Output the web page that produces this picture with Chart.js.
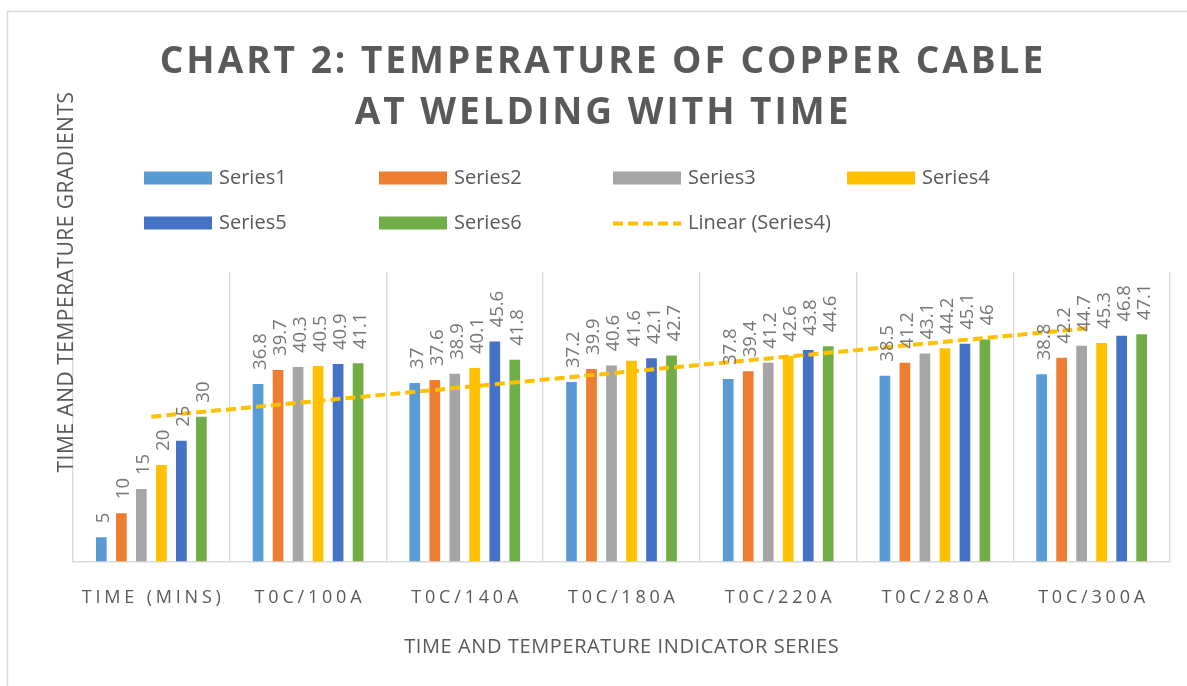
<!DOCTYPE html>
<html>
<head>
<meta charset="utf-8">
<script src="https://cdn.jsdelivr.net/npm/chart.js@4.4.1/dist/chart.umd.min.js"></script>
<style>
html,body{margin:0;padding:0;background:#ffffff;}
#wrap{width:1187px;height:686px;position:relative;}
</style>
</head>
<body>
<div id="wrap"><canvas id="c"></canvas></div>
<script>
const categories = ['TIME (MINS)', 'T0C/100A', 'T0C/140A', 'T0C/180A', 'T0C/220A', 'T0C/280A', 'T0C/300A'];
const series1 = [5, 36.8, 37, 37.2, 37.8, 38.5, 38.8];
const series2 = [10, 39.7, 37.6, 39.9, 39.4, 41.2, 42.2];
const series3 = [15, 40.3, 38.9, 40.6, 41.2, 43.1, 44.7];
const series4 = [20, 40.5, 40.1, 41.6, 42.6, 44.2, 45.3];
const series5 = [25, 40.9, 45.6, 42.1, 43.8, 45.1, 46.8];
const series6 = [30, 41.1, 41.8, 42.7, 44.6, 46, 47.1];
const trendSeries4 = [30.0, null, null, null, null, null, 48.4];
const seriesNames = ['Series1', 'Series2', 'Series3', 'Series4', 'Series5', 'Series6'];
const trendName = 'Linear (Series4)';
const titleLines = ['CHART 2: TEMPERATURE OF COPPER CABLE', 'AT WELDING WITH TIME'];
const yTitle = 'TIME AND TEMPERATURE GRADIENTS';
const xTitle = 'TIME AND TEMPERATURE INDICATOR SERIES';
const colors = ['#5B9BD5', '#ED7D31', '#A5A5A5', '#FFC000', '#4472C4', '#70AD47'];
const trendColor = '#FFC000';
const FONT = '"Open Sans", "DejaVu Sans", sans-serif';
const TEXT = '#595959';

const allSeries = [series1, series2, series3, series4, series5, series6];

const barDatasets = allSeries.map((d, i) => ({
  type: 'bar',
  label: seriesNames[i],
  data: d,
  backgroundColor: colors[i],
  borderWidth: 0,
  categoryPercentage: 0.766,
  barPercentage: 0.535,
  order: 1
}));

const trendDataset = {
  type: 'line',
  label: trendName,
  data: trendSeries4,
  borderColor: trendColor,
  borderWidth: 4,
  borderDash: [10, 5],
  pointRadius: 0,
  spanGaps: true,
  fill: false,
  order: 0
};

function wrapSpacing(obj, method, spacing) {
  const key = '_ls_' + method;
  if (!obj || obj[key]) return;
  const orig = obj[method];
  obj[method] = function () {
    const c = this.ctx; c.save(); c.letterSpacing = spacing + 'px'; c.translate(spacing / 2, 0);
    orig.apply(this, arguments); c.restore();
  };
  obj[key] = true;
}

const spacingPlugin = {
  id: 'spacing',
  beforeDraw(chart) {
    wrapSpacing(chart.scales.x, 'drawLabels', 3.8);
    wrapSpacing(chart.scales.x, 'drawTitle', 0.6);
    wrapSpacing(chart.titleBlock, 'draw', 3);
    const ctx = chart.ctx;
    ctx.save();
    ctx.strokeStyle = '#d9d9d9';
    ctx.lineWidth = 1.5;
    ctx.strokeRect(7.5, 11.5, 1400, 900);
    ctx.restore();
  }
};

const labelPlugin = {
  id: 'barLabels',
  afterDatasetsDraw(chart) {
    const ctx = chart.ctx;
    ctx.save();
    ctx.font = '18.5px ' + FONT;
    ctx.fillStyle = '#767676';
    ctx.textAlign = 'left';
    ctx.textBaseline = 'alphabetic';
    chart.data.datasets.forEach((ds, i) => {
      if (ds.type !== 'bar') return;
      const meta = chart.getDatasetMeta(i);
      meta.data.forEach((el, j) => {
        ctx.save();
        ctx.translate(el.x + 8, el.y - 14);
        ctx.rotate(-Math.PI / 2);
        ctx.fillText(String(ds.data[j]), 0, 0);
        ctx.restore();
      });
    });
    ctx.restore();
  }
};

const legendPlugin = {
  id: 'customLegend',
  afterDraw(chart) {
    const ctx = chart.ctx;
    const cols = [144, 379, 613, 847];
    const rows = [178, 223];
    const items = seriesNames.map((n, i) => ({ text: n, color: colors[i], line: false }));
    items.push({ text: trendName, color: trendColor, line: true });
    ctx.save();
    ctx.font = '20px ' + FONT;
    ctx.textBaseline = 'middle';
    ctx.textAlign = 'left';
    items.forEach((it, k) => {
      const x = cols[k % 4];
      const y = rows[Math.floor(k / 4)];
      if (it.line) {
        ctx.save();
        ctx.strokeStyle = it.color;
        ctx.lineWidth = 4;
        ctx.setLineDash([10, 5]);
        ctx.beginPath();
        ctx.moveTo(x, y + 0.5);
        ctx.lineTo(x + 68, y + 0.5);
        ctx.stroke();
        ctx.restore();
      } else {
        ctx.fillStyle = it.color;
        ctx.fillRect(x, y - 6.5, 68, 13);
      }
      ctx.fillStyle = TEXT;
      ctx.fillText(it.text, x + 75, y);
    });
    ctx.restore();
  }
};

const yTitlePlugin = {
  id: 'yTitle',
  afterDraw(chart) {
    const ctx = chart.ctx;
    ctx.save();
    ctx.font = '21px ' + FONT;
    ctx.letterSpacing = '0.5px';
    ctx.fillStyle = TEXT;
    ctx.textAlign = 'center';
    ctx.textBaseline = 'alphabetic';
    ctx.translate(72.5, 282);
    ctx.rotate(-Math.PI / 2);
    ctx.fillText(yTitle, 0, 0);
    ctx.restore();
  }
};

new Chart(document.getElementById('c'), {
  data: {
    labels: categories,
    datasets: [trendDataset].concat(barDatasets)
  },
  options: {
    responsive: true,
    maintainAspectRatio: false,
    animation: false,
    layout: { padding: { left: 33, right: 17, top: 12, bottom: 8 } },
    plugins: {
      legend: { display: false },
      tooltip: { enabled: false },
      title: {
        display: true,
        text: titleLines,
        color: TEXT,
        font: { family: FONT, size: 37, weight: 'bold', lineHeight: 1.378 },
        padding: { top: 25, bottom: 133 }
      }
    },
    scales: {
      x: {
        type: 'category',
        offset: true,
        grid: { display: true, offset: true, color: '#d9d9d9', lineWidth: 1.3, drawTicks: false },
        border: { display: true, color: '#d9d9d9', width: 1.6 },
        ticks: { color: TEXT, font: { family: FONT, size: 18 }, padding: 26, maxRotation: 0, autoSkip: false },
        title: { display: true, text: xTitle, color: TEXT, font: { family: FONT, size: 20 }, padding: { top: 0, bottom: 19 } }
      },
      y: {
        min: 0,
        max: 60,
        display: true,
        ticks: { display: false },
        grid: { display: false },
        border: { display: false },
        afterFit(s) { s.width = 40; }
      }
    }
  },
  plugins: [spacingPlugin, labelPlugin, legendPlugin, yTitlePlugin]
});
</script>
</body>
</html>
